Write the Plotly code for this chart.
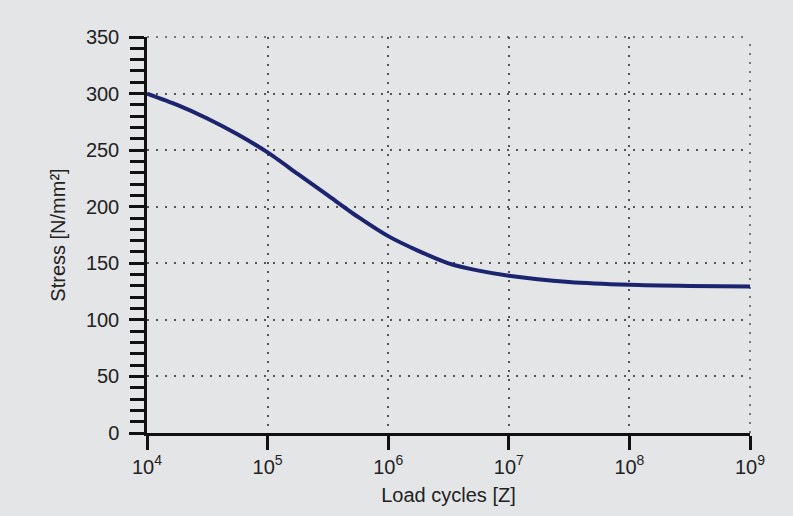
import plotly.graph_objects as go

# Data (log10 of load cycles, stress in N/mm²)
log_cycles = [4.0, 4.25, 4.5, 4.75, 5.0, 5.25, 5.5, 5.75, 6.0, 6.25, 6.5, 6.75, 7.0, 7.5, 8.0, 8.5, 9.0]
stress = [300, 290, 278, 264, 248, 229, 210, 191, 174, 161, 150, 143.5, 139, 133.5, 131, 130, 129.5]

x_tick_vals = [1e4, 1e5, 1e6, 1e7, 1e8, 1e9]
x_tick_text = ["10<sup>4</sup>", "10<sup>5</sup>", "10<sup>6</sup>", "10<sup>7</sup>", "10<sup>8</sup>", "10<sup>9</sup>"]
y_tick_vals = [0, 50, 100, 150, 200, 250, 300, 350]
y_tick_text = ["0", "50", "100", "150", "200", "250", "300", "350"]

cycles = [10 ** v for v in log_cycles]

bg = "#e4e5e7"
grid_color = "#555555"
grid_dash = "2px,7px"

fig = go.Figure()
fig.add_trace(go.Scatter(
    x=cycles, y=stress, mode="lines",
    line=dict(color="#1c2470", width=4, shape="spline", smoothing=0.7),
    cliponaxis=False, showlegend=False,
))

# dotted grid lines on the top and right edges of the plot area
fig.add_shape(type="line", xref="paper", yref="paper", x0=0, x1=1, y0=1, y1=1,
              line=dict(color=grid_color, width=1.5, dash=grid_dash), layer="below")
fig.add_shape(type="line", xref="paper", yref="paper", x0=1, x1=1, y0=0, y1=1,
              line=dict(color=grid_color, width=1.5, dash=grid_dash), layer="below")

font = "Liberation Sans"
fig.update_layout(
    width=793, height=516,
    margin=dict(l=147, r=43, t=37, b=83),
    paper_bgcolor=bg, plot_bgcolor=bg,
    font=dict(family=font, size=20, color="#222222"),
    xaxis=dict(
        type="log", range=[4, 9],
        tickvals=x_tick_vals, ticktext=x_tick_text,
        ticks="outside", ticklen=14, tickwidth=3, tickcolor="#111111",
        showline=True, linecolor="#111111", linewidth=2.5,
        showgrid=True, gridcolor=grid_color, gridwidth=1.5, griddash=grid_dash,
        zeroline=False,
        title=dict(text="Load cycles [Z]", standoff=12, font=dict(size=20, family=font)),
        tickfont=dict(size=20, family=font, color="#222222"),
    ),
    yaxis=dict(
        range=[0, 350],
        tickvals=y_tick_vals, ticktext=y_tick_text,
        ticks="outside", ticklen=15, tickwidth=2.5, tickcolor="#111111",
        minor=dict(dtick=10, ticks="outside", ticklen=14, tickwidth=2.5, tickcolor="#111111", showgrid=False),
        showline=True, linecolor="#111111", linewidth=2.5,
        showgrid=True, gridcolor=grid_color, gridwidth=1.5, griddash=grid_dash,
        zeroline=False,
        ticklabelstandoff=6,
        title=dict(text="Stress [N/mm²]", standoff=15, font=dict(size=20, family=font)),
        tickfont=dict(size=20, family=font, color="#222222"),
    ),
)

fig.write_html(
    "out.html",
    config={"displayModeBar": False},
    post_script="document.body.style.margin='0';document.body.style.overflow='hidden';"
                "document.body.style.background='" + bg + "';",
)
